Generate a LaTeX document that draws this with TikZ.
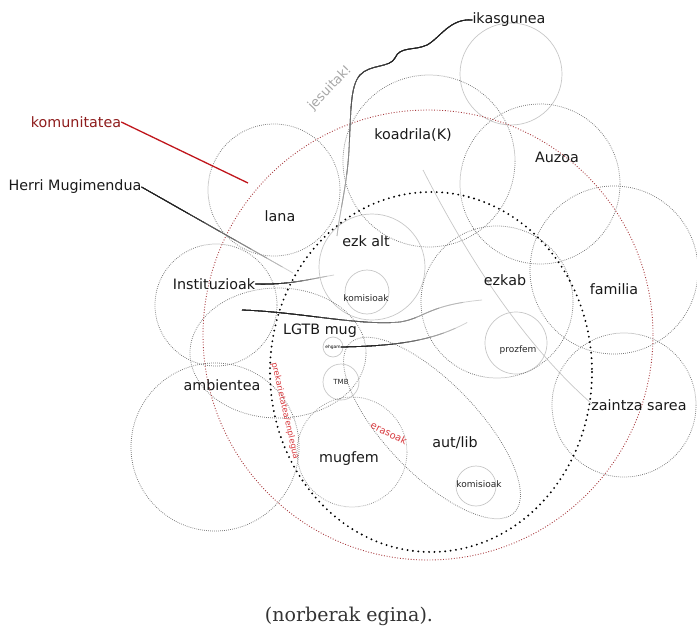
\documentclass[tikz,border=0pt]{standalone}
\usepackage{fontspec}
\setsansfont{DejaVu Sans}
\newfontfamily\capfont{DejaVu Serif}
\usetikzlibrary{positioning}
\definecolor{komtext}{HTML}{8E1C1C}
\definecolor{komline}{HTML}{C0161C}
\definecolor{komdot}{HTML}{A83A3E}
\definecolor{threat}{HTML}{D73A3F}
\newcommand{\fadepath}[2]{%
% path, rough length of the path
  \foreach \k in {0,...,7}{%
    \pgfmathsetmacro{\shadeval}{18+10*\k}
    \pgfmathsetmacro{\dashon}{#2*(1-\k/10)}
    \draw[line width=0.8pt, black!\shadeval,
      dash pattern=on \dashon pt off 5000pt] #1;
  }}
\tikzset{
  ring/.style={draw=black!55, line width=0.75pt, dash pattern=on 0.75pt off 1.25pt},
  softring/.style={draw=black!22, line width=0.7pt},
  komring/.style={draw=komdot, line width=0.9pt, dash pattern=on 0.9pt off 1.8pt},
  corering/.style={draw=black, line width=2.1pt, line cap=round, dash pattern=on 0pt off 5.4pt},
  lbl/.style={font=\sffamily\fontsize{14.3}{16}\selectfont, text=black!90, inner sep=0pt},
  sml/.style={font=\sffamily\fontsize{9}{10}\selectfont, text=black!85, inner sep=0pt}
}
\begin{document}
\begin{tikzpicture}[x=1pt,y=-1pt]
\useasboundingbox (0,0) rectangle (697,629);

% light solid circles
\draw[softring] (511,74) circle (51);
\draw[softring] (372,267) circle (53);
\draw[softring] (367,292) circle (22);
\draw[softring] (516,343) circle (31);
\draw[softring] (333,347) circle (10);
\draw[softring] (341,382) circle (18);
\draw[softring] (476,486) circle (20);
\draw[softring] (423,170) .. controls (470,262) and (525,345) .. (592,404);

% dotted groups
\draw[ring] (429,161) circle (86);
\draw[ring] (540,184) circle (80);
\draw[ring] (614,270) circle (84);
\draw[ring] (624,405) circle (72);
\draw[ring] (274,190) circle (66);
\draw[ring] (216,305) circle (61);
\draw[ring] (215,447) circle (84);
\draw[ring] (278,353) ellipse (88 and 65);
\draw[ring] (497,302) circle (76);
\draw[ring, draw=black!45] (352,452) circle (55);
\draw[ring] [shift={(432,428)}, rotate=-46] (0,0) ellipse (118 and 46);

% the two big rings
\draw[komring] (428,335) circle (225);
\draw[corering] (431,372) ellipse (161 and 180);

% labels
\node[lbl] (ikas) at (509,20) {ikasgunea};
\node[lbl, text=komtext] (komu) at (76,122) {komunitatea};
\node[lbl] (herri) at (75,187) {Herri Mugimendua};
\node[lbl] (koad) at (413,135) {koadrila(K)};
\node[lbl] (auzo) at (557,157) {Auzoa};
\node[lbl] (lana) at (280,216) {lana};
\node[lbl] (ezkalt) at (366,241) {ezk alt};
\node[lbl] (inst) at (214,284) {Instituzioak};
\node[sml] (komis1) at (366,298) {komisioak};
\node[lbl] (ezkab) at (505,280) {ezkab};
\node[lbl] (fam) at (614,289) {familia};
\node[lbl] (lgtb) at (320,331) {LGTB mug};
\node[font=\sffamily\fontsize{4.4}{5}\selectfont, inner sep=0pt] (ehgam) at (333,347) {ehgam};
\node[sml, font=\sffamily\fontsize{7}{8}\selectfont] (tmb) at (341,382) {TMB};
\node[sml] (prozfem) at (518,350) {prozfem};
\node[lbl] (amb) at (222,385) {ambientea};
\node[lbl] (zaintza) at (639,405) {zaintza sarea};
\node[lbl] (autlib) at (455,443) {aut/lib};
\node[lbl] (mugfem) at (349,459) {mugfem};
\node[sml] (komis2) at (479,484) {komisioak};
\node[font=\sffamily\fontsize{9.8}{11}\selectfont, text=threat, rotate=-26, inner sep=0pt]
  (eraso) at (389,433) {erasoak};
\node[font=\sffamily\fontsize{8.4}{9}\selectfont, text=threat, rotate=-77, inner sep=0pt]
  (prek) at (285,411) {prekarietatea/enplegua};
\node[font=\sffamily\fontsize{13}{15}\selectfont, text=black!35, rotate=46, inner sep=0pt]
  (jesu) at (330,88) {jesuitak!};
\node[font=\capfont\fontsize{19}{22}\selectfont, text=black!80] (capt) at (349,616)
  {(norberak egina).};

% connectors
\coordinate (komuend) at (248,183);
\coordinate (herriend) at (293,273);
\coordinate (instend) at (334,275);
\coordinate (ikasend) at (337,236);
\coordinate (wavestart) at (242,310);
\coordinate (waveend) at (482,300);
\coordinate (ehgamend) at (468,322);
\draw[komline, line width=1.3pt] (komu.east) -- (komuend);
\fadepath{(ikas.west) .. controls (450,18) and (440,38) .. (427,45)
  .. controls (414,51) and (400,46) .. (395,58)
  .. controls (390,68) and (370,64) .. (360,75)
  .. controls (350,86) and (351,112) .. (349,150)
  .. controls (347,185) and (340,210) .. (ikasend)}{330}
\fadepath{(herri.east) -- (herriend)}{180}
\fadepath{(inst.east) .. controls (290,285) and (310,279) .. (instend)}{80}
\fadepath{(wavestart) .. controls (300,312) and (360,326) .. (400,322)
  .. controls (425,318) and (428,305) .. (waveend)}{250}
\fadepath{(ehgam.east) .. controls (400,346) and (435,340) .. (ehgamend)}{130}
\end{tikzpicture}
\end{document}
